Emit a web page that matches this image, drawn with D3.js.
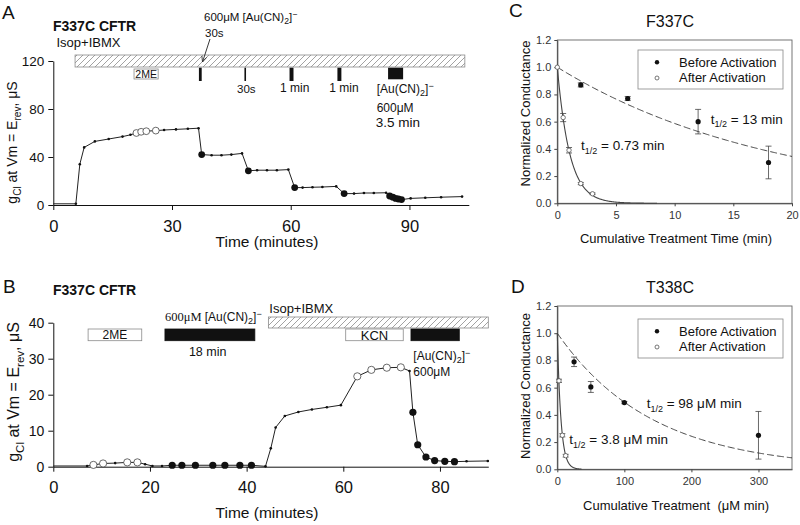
<!DOCTYPE html>
<html><head><meta charset="utf-8">
<script src="https://cdn.jsdelivr.net/npm/d3@7"></script>
<style>
body{margin:0;background:#fff}
svg{display:block;font-family:"Liberation Sans",Arial,sans-serif}
</style>
</head><body>
<svg id="chart" width="800" height="525"></svg>
<script>
// ---------------- Panel A data ----------------
const aTime   = [0, 5.7, 6.7, 7.8, 10.5, 14, 17.5, 19.5, 21, 22.2, 23.5, 25.9, 28, 31, 34, 36.7, 37.5, 40, 42.5, 45, 47.7, 49.3, 51.5, 54, 56.5, 59.4, 61, 63, 65.5, 68, 71.5, 73.5, 76, 78.5, 81, 84.1, 85, 85.8, 86.5, 87.2, 88, 90.3, 94, 98, 103.3];
const aValue  = [1, 1, 34, 48, 53, 55, 57, 58.5, 60, 61, 61.5, 62, 62.5, 63, 63.5, 64, 42, 41.5, 41.5, 42, 43, 28.5, 29, 29, 29, 29.5, 14.5, 14.5, 14.8, 15, 15.5, 9.5, 9.5, 10, 10, 10.2, 7.5, 6.5, 5.5, 5, 4.5, 5.5, 6, 6.5, 7];
const aMarker = ["n","s","s","s","s","s","s","s","o","o","o","o","s","s","s","s","f","s","s","s","s","f","s","s","s","s","f","s","s","s","s","f","s","s","s","s","f","f","f","f","f","s","s","s","s"];
const aXTicks = [0, 30, 60, 90];
const aYTicks = [0, 40, 80, 120];
const aIsop = [5.5, 104];
const a2ME = [20.4, 26.5];
const aTreatStart = [36.8, 48.3, 59.7, 71.8, 84.6];
const aTreatEnd   = [37.5, 48.7, 60.7, 72.8, 88.4];

// ---------------- Panel B data ----------------
const bTime   = [0, 7, 8.3, 10.3, 12.8, 15.3, 17.4, 19, 20.5, 22.5, 24.6, 26.6, 29.4, 33, 35.5, 38.6, 41, 43.9, 45, 46, 47.9, 50.7, 53.5, 56.6, 59.5, 62.9, 65.8, 69, 71.9, 73.7, 74.4, 75.4, 77.1, 78.9, 81, 83, 85.5, 89.9];
const bValue  = [0.2, 0.2, 0.5, 0.9, 1.0, 1.2, 1.2, 0.7, 0.2, 0.2, 0.4, 0.4, 0.4, 0.4, 0.4, 0.4, 0.4, 0.1, 5.1, 10.9, 14.1, 15.2, 15.9, 16.5, 17.1, 25.1, 26.9, 27.5, 27.6, 26.6, 15.1, 6.1, 2.7, 1.7, 1.5, 1.4, 1.5, 1.6];
const bMarker = ["n","s","o","o","s","o","o","s","s","s","f","f","f","f","f","f","f","s","s","s","s","s","s","s","s","o","o","o","o","s","f","f","f","f","f","f","s","s"];
const bXTicks = [0, 20, 40, 60, 80];
const bYTicks = [0, 10, 20, 30, 40];
const b2ME = [7.2, 18.3];
const bAu1 = [23.1, 41.7];
const bIsop = [44.5, 90];
const bKCN = [60.5, 72.4];
const bAu2 = [74.0, 84.0];

// ---------------- Panel C data ----------------
const cBeforeX = [2, 6, 12, 18];
const cBeforeY = [0.87, 0.77, 0.60, 0.30];
const cBeforeErr = [0.015, 0.015, 0.09, 0.12];
const cAfterX = [0, 0.5, 1, 2, 3];
const cAfterY = [1.0, 0.63, 0.39, 0.145, 0.07];
const cAfterErr = [0, 0.03, 0.02, 0.008, 0.006];
const cHalfLives = [13, 0.73];
const cXTicks = [0, 5, 10, 15, 20];
const yTicksCD = [0, 0.2, 0.4, 0.6, 0.8, 1.0, 1.2];

// ---------------- Panel D data ----------------
const dBeforeX = [25, 50, 100, 300];
const dBeforeY = [0.79, 0.605, 0.49, 0.25];
const dBeforeErr = [0.035, 0.04, 0.008, 0.175];
const dAfterX = [2.5, 7.5, 12.5];
const dAfterY = [0.65, 0.25, 0.10];
const dAfterErr = [0.012, 0.012, 0.01];
const dHalfLives = [98, 3.8];
const dXTicks = [0, 100, 200, 300];

const svg = d3.select("#chart");
svg.append("rect").attr("width",800).attr("height",525).attr("fill","#fff");

// hatch pattern
const defs = svg.append("defs");
const pat = defs.append("pattern").attr("id","hatch").attr("patternUnits","userSpaceOnUse")
  .attr("width",6).attr("height",6);
pat.append("rect").attr("width",6).attr("height",6).attr("fill","#fff");
pat.append("path").attr("d","M-1,1 l2,-2 M0,6 l6,-6 M5,7 l2,-2").attr("stroke","#8a8a8a").attr("stroke-width",0.8);
defs.append("marker").attr("id","arrow").attr("viewBox","0 0 10 10").attr("refX",9).attr("refY",5)
  .attr("markerWidth",7).attr("markerHeight",7).attr("orient","auto")
  .append("path").attr("d","M0,1 L9,5 L0,9").attr("fill","none").attr("stroke","#222").attr("stroke-width",1.2);

function txt(x, y, s, size, opts={}) {
  const t = svg.append("text").attr("x",x).attr("y",y).attr("font-size",size).attr("fill","#111").text(s);
  if (opts.anchor) t.attr("text-anchor",opts.anchor);
  if (opts.bold) t.attr("font-weight","bold");
  if (opts.family) t.attr("font-family",opts.family);
  return t;
}
// [Au(CN)2]- text
function auText(sel, size) {
  sel.append("tspan").text("[Au(CN)");
  sel.append("tspan").attr("font-size",size*0.75).attr("dy",size*0.25).text("2");
  sel.append("tspan").attr("dy",-size*0.25).text("]");
  sel.append("tspan").attr("font-size",size*0.75).attr("dy",-size*0.35).text("\u2212");
}
function ylabelG(x, y, size) {
  const t = svg.append("text").attr("transform",`translate(${x},${y}) rotate(-90)`)
    .attr("text-anchor","middle").attr("font-size",size).attr("fill","#111");
  t.append("tspan").text("g");
  t.append("tspan").attr("font-size",size*0.72).attr("dy",size*0.3).text("Cl");
  t.append("tspan").attr("dy",-size*0.3).text(" at Vm = E");
  t.append("tspan").attr("font-size",size*0.72).attr("dy",size*0.3).text("rev");
  t.append("tspan").attr("dy",-size*0.3).text(", \u03bcS");
}
function styleAxis(g, size) {
  g.selectAll("path,line").attr("stroke","#111");
  g.selectAll("text").attr("font-size",size).attr("fill","#111").attr("font-family",'"Liberation Sans",Arial,sans-serif');
}
function trace(x, y, t, v, m, rBig) {
  const pts = t.map((d,i)=>({t:d, v:v[i], m:m[i]}));
  svg.append("path").datum(pts).attr("fill","none").attr("stroke","#222").attr("stroke-width",1)
    .attr("d", d3.line().x(d=>x(d.t)).y(d=>y(d.v)));
  svg.append("g").selectAll("circle").data(pts.filter(d=>d.m!=="n")).join("circle")
    .attr("cx",d=>x(d.t)).attr("cy",d=>y(d.v))
    .attr("r",d=>d.m==="s"?1.3:rBig)
    .attr("fill",d=>d.m==="o"?"#fff":"#111")
    .attr("stroke",d=>d.m==="o"?"#444":"none").attr("stroke-width",0.8);
}

// ================= Panel A =================
const xA = d3.scaleLinear([0,105],[53.3,468.8]);
const yA = d3.scaleLinear([0,120],[205,61]);
styleAxis(svg.append("g").attr("transform","translate(0,205)")
  .call(d3.axisBottom(xA).tickValues(aXTicks).tickSize(5).tickSizeOuter(0).tickPadding(10)), 16.5);
styleAxis(svg.append("g").attr("transform","translate(53.3,0)")
  .call(d3.axisLeft(yA).tickValues(aYTicks).tickSize(5).tickSizeOuter(0).tickPadding(4)), 13.5);
// bars
svg.append("rect").attr("x",xA(aIsop[0])).attr("y",55).attr("width",xA(aIsop[1])-xA(aIsop[0])).attr("height",12)
  .attr("fill","url(#hatch)").attr("stroke","#8a8a8a").attr("stroke-width",0.8);
svg.append("rect").attr("x",xA(a2ME[0])).attr("y",69).attr("width",xA(a2ME[1])-xA(a2ME[0])).attr("height",10)
  .attr("fill","#fff").attr("stroke","#8a8a8a").attr("stroke-width",0.8);
txt((xA(a2ME[0])+xA(a2ME[1]))/2, 77.5, "2ME", 10.5, {anchor:"middle"});
svg.append("g").selectAll("rect").data(aTreatStart).join("rect")
  .attr("x",(d)=>xA(d)).attr("y",(d,i)=> 67.7)
  .attr("width",(d,i)=>Math.max(1.6, xA(aTreatEnd[i])-xA(d)))
  .attr("height",(d,i)=> i===4 ? 11.6 : 13.3).attr("fill","#111");
trace(xA, yA, aTime, aValue, aMarker, 3.4);
// texts
txt(2, 19, "A", 19);
txt(53, 31, "F337C CFTR", 14, {bold:true});
txt(56.5, 47, "Isop+IBMX", 13);
auText(txt(204, 21, "600\u03bcM ", 11.5), 11.5);
txt(205, 36.5, "30s", 11.5);
svg.append("line").attr("x1",210).attr("y1",39).attr("x2",202.5).attr("y2",62).attr("stroke","#222").attr("stroke-width",0.9).attr("marker-end","url(#arrow)");
txt(237, 92.5, "30s", 11.5);
txt(280, 92, "1 min", 12);
txt(329.3, 92, "1 min", 12);
auText(txt(376.7, 93, "", 12), 12);
txt(376.7, 111.5, "600\u03bcM", 12);
txt(375.7, 127, "3.5 min", 13.5);
txt(267, 247, "Time (minutes)", 15.5, {anchor:"middle"});
ylabelG(17, 142.5, 14);

// ================= Panel B =================
const xB = d3.scaleLinear([0,90],[53.3,488.3]);
const yB = d3.scaleLinear([0,40],[466.7,322.7]);
styleAxis(svg.append("g").attr("transform","translate(0,466.7)")
  .call(d3.axisBottom(xB).tickValues(bXTicks).tickSize(5).tickSizeOuter(0).tickPadding(10)), 16.5);
styleAxis(svg.append("g").attr("transform","translate(53.3,0)")
  .call(d3.axisLeft(yB).tickValues(bYTicks).tickSize(5).tickSizeOuter(0).tickPadding(4)), 14);
function boxB(r, y, h, fill, stroke) {
  return svg.append("rect").attr("x",xB(r[0])).attr("y",y).attr("width",xB(r[1])-xB(r[0])).attr("height",h)
    .attr("fill",fill).attr("stroke",stroke).attr("stroke-width",0.8);
}
boxB(bIsop, 317, 11, "url(#hatch)", "#8a8a8a");
boxB(b2ME, 329, 11.7, "#fff", "#8a8a8a");
boxB(bKCN, 329, 11.7, "#fff", "#8a8a8a");
boxB(bAu1, 329, 11.7, "#111", "#111");
boxB(bAu2, 329, 11.7, "#111", "#111");
txt((xB(b2ME[0])+xB(b2ME[1]))/2, 339, "2ME", 12, {anchor:"middle"});
txt((xB(bKCN[0])+xB(bKCN[1]))/2, 339.5, "KCN", 13, {anchor:"middle"});
trace(xB, yB, bTime, bValue, bMarker, 3.6);
txt(3, 293, "B", 19);
txt(53, 295, "F337C CFTR", 14, {bold:true});
txt(269.3, 313, "Isop+IBMX", 13);
{
  const t = txt(165, 321, "", 12);
  t.append("tspan").attr("font-family",'"Liberation Serif","Times New Roman",serif').attr("font-size",12.5).text("600\u03bcM ");
  auText(t, 12);
}
txt(207.7, 356, "18 min", 12.5, {anchor:"middle"});
auText(txt(413.3, 360, "", 12), 12);
txt(413.3, 376, "600\u03bcM", 12);
txt(267, 518, "Time (minutes)", 15.5, {anchor:"middle"});
ylabelG(19, 392, 16);

// ================= Panels C & D =================
function decayPanel(cfg) {
  const x = d3.scaleLinear(cfg.xDomain, [557.3, 792]);
  const y = d3.scaleLinear([0,1.2], [cfg.y0, cfg.y0 - 163.3]);
  svg.append("rect").attr("x",557.3).attr("y",cfg.y0-163.3).attr("width",792-557.3).attr("height",163.3)
    .attr("fill","none").attr("stroke","#666").attr("stroke-width",0.9);
  const gx = svg.append("g").attr("transform",`translate(0,${cfg.y0})`)
    .call(d3.axisBottom(x).tickValues(cfg.xTicks).tickSize(3).tickSizeOuter(0).tickPadding(cfg.xPad).tickFormat(d3.format("d")));
  const gy = svg.append("g").attr("transform","translate(557.3,0)")
    .call(d3.axisLeft(y).tickValues(yTicksCD).tickSize(3).tickSizeOuter(0).tickPadding(3).tickFormat(d3.format(".1f")));
  [gx,gy].forEach(g=>{ styleAxis(g, 11); g.selectAll("path,line").attr("stroke","#444"); g.selectAll("text").attr("fill","#333");});
  // fit curves from reported half-lives
  const slowX = d3.range(0, cfg.xDomain[1]+1e-9, cfg.xDomain[1]/200);
  const fastX = d3.range(0, cfg.fastEnd+1e-9, cfg.fastEnd/200);
  const decay = (t, h) => Math.exp(-Math.LN2*t/h);
  svg.append("path").datum(slowX).attr("fill","none").attr("stroke","#333").attr("stroke-width",0.9)
    .attr("stroke-dasharray","7,3").attr("d", d3.line().x(d=>x(d)).y(d=>y(decay(d,cfg.half[0]))));
  svg.append("path").datum(fastX).attr("fill","none").attr("stroke","#444").attr("stroke-width",1.1)
    .attr("d", d3.line().x(d=>x(d)).y(d=>y(decay(d,cfg.half[1]))));
  // error bars
  function errs(xs, ys, es) {
    const g = svg.append("g").attr("stroke","#444").attr("stroke-width",0.8);
    xs.forEach((xv,i)=>{
      if (!es[i]) return;
      const cx = x(xv), y1 = y(ys[i]+es[i]), y2 = y(ys[i]-es[i]);
      g.append("line").attr("x1",cx).attr("x2",cx).attr("y1",y1).attr("y2",y2);
      g.append("line").attr("x1",cx-3).attr("x2",cx+3).attr("y1",y1).attr("y2",y1);
      g.append("line").attr("x1",cx-3).attr("x2",cx+3).attr("y1",y2).attr("y2",y2);
    });
  }
  errs(cfg.bx, cfg.by, cfg.be);
  errs(cfg.ax, cfg.ay, cfg.ae);
  svg.append("g").selectAll("circle").data(cfg.bx).join("circle")
    .attr("cx",d=>x(d)).attr("cy",(d,i)=>y(cfg.by[i])).attr("r",2.6).attr("fill","#111");
  svg.append("g").selectAll("circle").data(cfg.ax).join("circle")
    .attr("cx",d=>x(d)).attr("cy",(d,i)=>y(cfg.ay[i])).attr("r",2.2).attr("fill","#fff").attr("stroke","#555").attr("stroke-width",0.8);
  // legend
  const ly = cfg.legY;
  svg.append("rect").attr("x",638).attr("y",ly).attr("width",145).attr("height",39).attr("fill","#fff").attr("stroke","#888").attr("stroke-width",0.8);
  svg.append("circle").attr("cx",657).attr("cy",ly+12.3).attr("r",2.2).attr("fill","#111");
  svg.append("circle").attr("cx",657).attr("cy",ly+28).attr("r",2).attr("fill","#fff").attr("stroke","#555").attr("stroke-width",0.8);
  txt(679, ly+16.7, "Before Activation", 13);
  txt(679, ly+32.3, "After Activation", 13);
  // titles and labels
  txt(cfg.letterX, cfg.letterY, cfg.letter, 19);
  txt(670, cfg.titleY, cfg.title, 16, {anchor:"middle"});
  svg.append("text").attr("transform",`translate(529.5,${cfg.yLabelY}) rotate(-90)`).attr("text-anchor","middle")
    .attr("font-size",13).attr("fill","#111").text("Normalized Conductance");
  svg.append("text").attr("x",676).attr("y",cfg.xLabelY).attr("text-anchor","middle").attr("font-size",13)
    .attr("fill","#111").style("white-space","pre").text(cfg.xLabel);
  function half(xp, yp, rest) {
    const t = txt(xp, yp, "t", 13.5);
    t.append("tspan").attr("font-size",9).attr("dy",3.5).text("1/2");
    t.append("tspan").attr("dy",-3.5).text(rest);
  }
  half(cfg.h0[0], cfg.h0[1], cfg.h0[2]);
  half(cfg.h1[0], cfg.h1[1], cfg.h1[2]);
}
decayPanel({xDomain:[0,20], xTicks:cXTicks, y0:203.3, xPad:5, fastEnd:8.5, half:cHalfLives,
  bx:cBeforeX, by:cBeforeY, be:cBeforeErr, ax:cAfterX, ay:cAfterY, ae:cAfterErr,
  legY:50, letter:"C", letterX:509, letterY:17, title:"F337C", titleY:27, yLabelY:113.5,
  xLabel:"Cumulative Treatment Time (min)", xLabelY:243,
  h0:[710.7,123.5," = 13 min"], h1:[581,150," = 0.73 min"]});
decayPanel({xDomain:[0,350], xTicks:dXTicks, y0:469.3, xPad:5, fastEnd:36, half:dHalfLives,
  bx:dBeforeX, by:dBeforeY, be:dBeforeErr, ax:dAfterX, ay:dAfterY, ae:dAfterErr,
  legY:319, letter:"D", letterX:511, letterY:293, title:"T338C", titleY:293, yLabelY:386,
  xLabel:"Cumulative Treatment  (\u03bcM min)", xLabelY:510,
  h0:[646.7,408," = 98 \u03bcM min"], h1:[569.3,444," = 3.8 \u03bcM min"]});
</script>
</body></html>
